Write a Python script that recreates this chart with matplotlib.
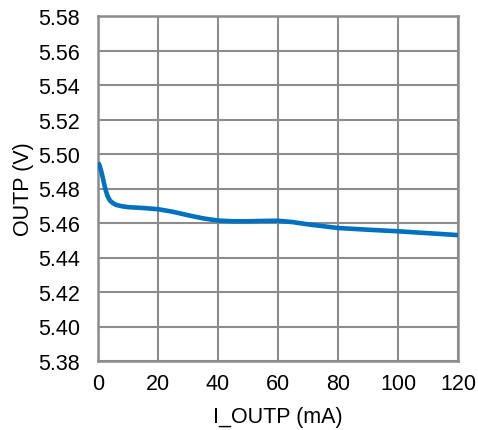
import matplotlib.pyplot as plt

plt.rcParams['font.family'] = ['Liberation Sans', 'DejaVu Sans']

# I_OUTP (mA) vs OUTP (V)
i_outp = [0, 0.5, 1, 1.5, 2, 2.5, 3, 3.5, 4, 5, 6, 8, 10, 15, 20, 25, 30, 35, 40, 45, 50, 55, 60,
          65, 70, 80, 90, 100, 110, 120]
outp = [5.4950, 5.4935, 5.4905, 5.4870, 5.4830, 5.4795, 5.4765, 5.4745, 5.4730, 5.4715, 5.4705,
        5.4697, 5.4692, 5.4687, 5.4680, 5.4665, 5.4645, 5.4627, 5.4614, 5.4610, 5.4610, 5.4612,
        5.4613, 5.4605, 5.4592, 5.4571, 5.4561, 5.4552, 5.4541, 5.4530]

xticks = [0, 20, 40, 60, 80, 100, 120]
yticks = [5.38, 5.40, 5.42, 5.44, 5.46, 5.48, 5.50, 5.52, 5.54, 5.56, 5.58]

W, H = 478, 431
fig = plt.figure(figsize=(W / 100, H / 100), dpi=100)
ax = fig.add_axes([98 / W, (H - 362) / H, 360 / W, 345 / H])

grid_c = '#8c8c8c'
ax.plot(i_outp, outp, color='#0070c0', lw=3.3, solid_capstyle='butt', zorder=3)

ax.set_xlim(0, 120)
ax.set_ylim(5.38, 5.58)
ax.set_xticks(xticks)
ax.set_yticks(yticks)
ax.set_yticklabels([f'{v:.2f}' for v in yticks])
ax.grid(True, color=grid_c, lw=1.5)
for s in ax.spines.values():
    s.set_color(grid_c)
    s.set_linewidth(1.8)
ax.tick_params(length=0, labelsize=15.5, colors='black')
ax.tick_params(axis='y', pad=13)
ax.tick_params(axis='x', pad=9)

ax.set_xlabel('I_OUTP (mA)', fontsize=15.5, labelpad=8)
ax.set_ylabel('OUTP (V)', fontsize=15.5, labelpad=3)

fig.savefig('out.png', dpi=100)
